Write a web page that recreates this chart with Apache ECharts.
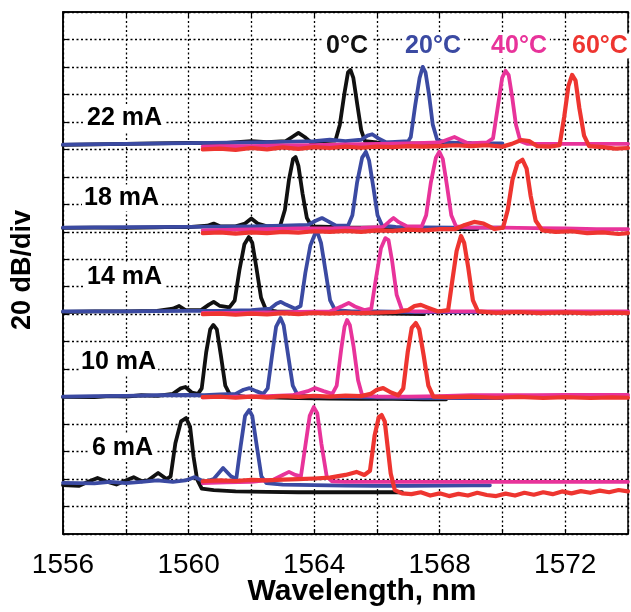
<!DOCTYPE html>
<html>
<head>
<meta charset="utf-8">
<script src="https://cdn.jsdelivr.net/npm/echarts@6/dist/echarts.min.js"></script>
<style>html,body{margin:0;padding:0;background:#fff}#c{width:631px;height:612px}</style>
</head>
<body>
<div id="c"></div>
<script>
// x tick labels, temperature legend labels, current labels
var xTicks = [1556, 1560, 1564, 1568, 1572];
var temps = ['0°C', '20°C', '40°C', '60°C'];
var tempColors = ['#111111', '#3b4aa2', '#e8339a', '#ee3530'];
var currents = ['22 mA', '18 mA', '14 mA', '10 mA', '6 mA'];

// traces: [wavelength nm, level in divisions]
var k22_0 = [[1556,14.16],[1557,14.18],[1558,14.2],[1559,14.22],[1560,14.24],[1561,14.22],[1562,14.3],[1562.5,14.26],[1563.1,14.3],[1563.3,14.45],[1563.5,14.6],[1563.7,14.45],[1563.9,14.25],[1564.3,14.3],[1564.68,14.32],[1564.82,14.9],[1564.96,16.0],[1565.08,16.8],[1565.16,16.89],[1565.25,16.6],[1565.38,15.6],[1565.5,14.7],[1565.62,14.3],[1566,14.25],[1567,14.22],[1568,14.2],[1569,14.22]];
var k22_20 = [[1556,14.17],[1558,14.2],[1560,14.23],[1562,14.25],[1563,14.27],[1564,14.3],[1564.5,14.35],[1565,14.3],[1565.5,14.35],[1565.7,14.5],[1565.85,14.55],[1566.05,14.4],[1566.3,14.25],[1567,14.3],[1567.08,14.45],[1567.22,15.6],[1567.36,16.6],[1567.46,17.0],[1567.55,16.8],[1567.66,16.0],[1567.78,14.9],[1567.92,14.35],[1568.2,14.25],[1569,14.22],[1570,14.22]];
var k22_40 = [[1560.45,14.1],[1561,14.12],[1562,14.12],[1563,14.14],[1564,14.15],[1565,14.18],[1566,14.2],[1567,14.22],[1568,14.25],[1568.3,14.38],[1568.47,14.45],[1568.65,14.35],[1568.9,14.22],[1569.5,14.25],[1569.7,14.4],[1569.86,15.6],[1569.99,16.6],[1570.1,16.86],[1570.2,16.7],[1570.31,15.9],[1570.43,14.9],[1570.57,14.3],[1570.8,14.2],[1572,14.2],[1573,14.2],[1574,14.2]];
var k22_60 = [[1560.45,14.0],[1561,14.03],[1561.5,13.98],[1562,14.05],[1562.5,14.0],[1563,14.07],[1563.5,14.02],[1564,14.08],[1564.5,14.05],[1565,14.1],[1565.5,14.06],[1566,14.1],[1566.5,14.08],[1567,14.12],[1567.5,14.1],[1568,14.12],[1568.5,14.15],[1569,14.12],[1569.5,14.15],[1570,14.1],[1570.3,14.2],[1570.6,14.34],[1570.85,14.3],[1571.1,14.12],[1571.5,14.1],[1571.82,14.15],[1571.97,15.2],[1572.1,16.3],[1572.22,16.71],[1572.33,16.5],[1572.45,15.5],[1572.6,14.5],[1572.76,14.12],[1573.2,14.08],[1573.6,14.03],[1574,14.05]];

var k18_0 = [[1556,11.14],[1557,11.15],[1558,11.14],[1559,11.16],[1559.5,11.18],[1560,11.17],[1560.6,11.22],[1560.8,11.3],[1561.0,11.2],[1561.5,11.2],[1561.8,11.3],[1562.0,11.48],[1562.2,11.3],[1562.5,11.2],[1562.92,11.22],[1563.07,11.8],[1563.2,12.9],[1563.33,13.65],[1563.41,13.72],[1563.5,13.4],[1563.63,12.4],[1563.77,11.5],[1563.92,11.2],[1564.5,11.18],[1565,11.16],[1566,11.15],[1567,11.12],[1568,11.1],[1569.2,11.1]];
var k18_20 = [[1556,11.15],[1558,11.17],[1560,11.18],[1562,11.2],[1563,11.22],[1563.8,11.25],[1564.05,11.4],[1564.25,11.5],[1564.45,11.38],[1564.7,11.22],[1565.08,11.22],[1565.22,11.6],[1565.37,12.8],[1565.53,13.7],[1565.65,13.91],[1565.75,13.6],[1565.89,12.6],[1566.02,11.6],[1566.17,11.22],[1566.6,11.18],[1567.5,11.16],[1568.5,11.15],[1569.5,11.15],[1570,11.15]];
var k18_40 = [[1560.45,11.05],[1561.5,11.08],[1562.5,11.1],[1563.5,11.12],[1564.5,11.12],[1565.5,11.14],[1566.2,11.18],[1566.4,11.38],[1566.53,11.5],[1566.7,11.35],[1566.95,11.2],[1567.43,11.2],[1567.57,11.6],[1567.72,12.8],[1567.88,13.7],[1567.99,13.91],[1568.1,13.65],[1568.23,12.7],[1568.37,11.6],[1568.52,11.2],[1569,11.15],[1570,11.15],[1571,11.13],[1572,11.12],[1573,11.1],[1574,11.1]];
var k18_60 = [[1560.45,10.95],[1561,10.98],[1561.5,10.93],[1562,10.98],[1562.5,10.95],[1563,11.0],[1563.5,10.97],[1564,11.02],[1564.5,11.0],[1565,11.03],[1565.5,11.0],[1566,11.05],[1566.5,11.03],[1567,11.08],[1567.5,11.05],[1568,11.1],[1568.5,11.1],[1568.8,11.25],[1569.1,11.36],[1569.4,11.3],[1569.75,11.1],[1570.02,11.15],[1570.17,11.8],[1570.32,12.9],[1570.48,13.5],[1570.64,13.62],[1570.77,13.3],[1570.9,12.3],[1571.06,11.4],[1571.27,11.05],[1571.7,11.0],[1572.2,11.02],[1572.7,10.95],[1573.2,10.98],[1573.7,10.92],[1574,10.95]];

var k14_0 = [[1556,8.08],[1557,8.1],[1558,8.1],[1559,8.12],[1559.5,8.2],[1559.7,8.3],[1559.9,8.15],[1560.4,8.15],[1560.65,8.35],[1560.8,8.45],[1561.0,8.3],[1561.3,8.25],[1561.47,8.5],[1561.62,9.6],[1561.78,10.55],[1561.92,10.81],[1562.03,10.6],[1562.16,9.7],[1562.31,8.6],[1562.47,8.15],[1562.8,8.1],[1563.5,8.08],[1564.5,8.05],[1565.5,8.03],[1566.5,8.02],[1567.5,8.0]];
var k14_20 = [[1556,8.1],[1558,8.1],[1560,8.12],[1561,8.12],[1562,8.15],[1562.6,8.2],[1562.8,8.38],[1562.94,8.45],[1563.1,8.35],[1563.4,8.2],[1563.57,8.3],[1563.72,9.5],[1563.88,10.5],[1564.03,10.93],[1564.11,10.96],[1564.22,10.6],[1564.36,9.6],[1564.51,8.5],[1564.67,8.15],[1565.2,8.1],[1566,8.1],[1567,8.08],[1568,8.08],[1569,8.08],[1570,8.08]];
var k14_40 = [[1560.45,8.05],[1561.5,8.05],[1562.5,8.07],[1563.5,8.08],[1564.5,8.1],[1564.9,8.3],[1565.1,8.41],[1565.3,8.28],[1565.6,8.15],[1565.82,8.2],[1565.97,9.3],[1566.13,10.4],[1566.27,10.77],[1566.37,10.7],[1566.49,9.9],[1566.63,8.7],[1566.8,8.15],[1567.2,8.1],[1568,8.1],[1569,8.1],[1570,8.1],[1571,8.1],[1572,8.1],[1573,8.1],[1574,8.1]];
var k14_60 = [[1560.45,8.0],[1561,8.02],[1561.5,7.98],[1562,8.02],[1562.5,7.99],[1563,8.04],[1563.5,8.0],[1564,8.05],[1564.5,8.02],[1565,8.06],[1565.5,8.04],[1566,8.06],[1566.6,8.08],[1567.0,8.15],[1567.2,8.3],[1567.4,8.34],[1567.6,8.25],[1567.95,8.1],[1568.27,8.15],[1568.4,9.2],[1568.54,10.3],[1568.68,10.85],[1568.78,10.6],[1568.91,9.7],[1569.06,8.5],[1569.22,8.1],[1569.8,8.05],[1570.5,8.08],[1571.2,8.04],[1572,8.07],[1572.8,8.03],[1573.5,8.06],[1574,8.04]];

var k10_0 = [[1556,4.99],[1557,4.98],[1557.5,5.02],[1558,5.0],[1558.5,5.05],[1559,5.03],[1559.5,5.1],[1559.75,5.3],[1559.9,5.35],[1560.1,5.15],[1560.3,5.1],[1560.42,5.3],[1560.56,6.6],[1560.69,7.45],[1560.79,7.61],[1560.9,7.45],[1561.03,6.5],[1561.17,5.4],[1561.33,5.05],[1561.8,5.0],[1562.5,4.97],[1563.5,4.95],[1564.5,4.93],[1565.5,4.92],[1566.5,4.92],[1567.5,4.9],[1568.2,4.9]];
var k10_20 = [[1556,5.0],[1557,5.02],[1558,5.03],[1559,5.05],[1560,5.06],[1560.5,5.05],[1561,5.08],[1561.5,5.1],[1561.75,5.25],[1561.94,5.31],[1562.15,5.2],[1562.38,5.1],[1562.52,5.3],[1562.66,6.5],[1562.79,7.55],[1562.93,7.86],[1563.03,7.6],[1563.16,6.6],[1563.32,5.4],[1563.48,5.05],[1564,5.0],[1565,4.98],[1566,4.97],[1567,4.96],[1568,4.95],[1569,4.95],[1570,4.95]];
var k10_40 = [[1560.45,4.97],[1561.5,5.0],[1562.5,5.02],[1563.3,5.05],[1563.8,5.2],[1564.03,5.31],[1564.3,5.2],[1564.58,5.1],[1564.72,5.4],[1564.86,6.7],[1564.97,7.55],[1565.05,7.79],[1565.14,7.6],[1565.26,6.8],[1565.4,5.6],[1565.53,5.05],[1566,5.0],[1567,5.0],[1568,5.02],[1569,5.05],[1570,5.05],[1571,5.05],[1572,5.06],[1573,5.06],[1574,5.06]];
var k10_60 = [[1560.45,4.98],[1561,5.0],[1561.5,4.96],[1562,5.0],[1562.5,4.97],[1563,5.02],[1563.5,4.99],[1564,5.03],[1564.5,5.0],[1565,5.04],[1565.5,5.02],[1565.8,5.1],[1566.0,5.25],[1566.2,5.31],[1566.45,5.15],[1566.68,5.05],[1566.84,5.3],[1566.98,6.6],[1567.11,7.5],[1567.24,7.68],[1567.35,7.45],[1567.49,6.5],[1567.64,5.4],[1567.8,5.0],[1568.3,4.98],[1569,5.0],[1569.8,4.96],[1570.5,4.99],[1571.3,4.95],[1572,4.98],[1572.8,4.95],[1573.5,4.97],[1574,4.96]];

var k6_0 = [[1556,1.78],[1556.5,1.75],[1556.8,1.9],[1557.1,2.04],[1557.4,1.9],[1557.7,1.8],[1558.0,1.95],[1558.25,2.07],[1558.5,1.92],[1558.7,1.95],[1559.03,2.22],[1559.3,2.0],[1559.43,2.1],[1559.58,3.3],[1559.76,4.1],[1559.92,4.22],[1560.05,3.9],[1560.16,2.8],[1560.27,2.0],[1560.42,1.65],[1560.8,1.6],[1561.5,1.55],[1562.5,1.53],[1563.5,1.52],[1564.5,1.52],[1565.5,1.52],[1566.5,1.52],[1566.8,1.52]];
var k6_20 = [[1556,1.86],[1557,1.84],[1557.5,1.9],[1558,1.85],[1558.5,1.9],[1559,1.95],[1559.5,1.9],[1559.9,1.95],[1560.2,2.07],[1560.5,1.9],[1560.8,2.0],[1561.1,2.4],[1561.35,2.1],[1561.52,2.0],[1561.66,3.2],[1561.8,4.3],[1561.93,4.51],[1562.03,4.3],[1562.16,3.3],[1562.32,2.1],[1562.48,1.85],[1563,1.8],[1564,1.78],[1565,1.76],[1566,1.75],[1567,1.75],[1568,1.76],[1569,1.77],[1569.6,1.77]];
var k6_40 = [[1560.45,1.85],[1561.2,1.88],[1562,1.9],[1562.7,1.98],[1563.0,2.15],[1563.2,2.26],[1563.4,2.15],[1563.58,2.1],[1563.72,3.2],[1563.86,4.3],[1563.99,4.62],[1564.1,4.4],[1564.23,3.3],[1564.4,2.1],[1564.57,1.92],[1565,1.9],[1566,1.9],[1567,1.9],[1568,1.9],[1569,1.9],[1570,1.9],[1571,1.9],[1572,1.9],[1573,1.9],[1574,1.9]];
var k6_60 = [[1560.45,1.92],[1561,1.95],[1561.5,1.93],[1562,1.97],[1562.5,1.95],[1563,1.98],[1563.5,2.0],[1564,2.02],[1564.5,2.05],[1565.0,2.15],[1565.35,2.26],[1565.6,2.15],[1565.78,2.3],[1565.93,3.6],[1566.06,4.25],[1566.15,4.33],[1566.25,4.1],[1566.34,3.2],[1566.44,2.2],[1566.57,1.6],[1566.8,1.48],[1567.1,1.45],[1567.4,1.52],[1567.7,1.4],[1568.0,1.48],[1568.3,1.38],[1568.6,1.46],[1568.9,1.4],[1569.2,1.5],[1569.5,1.42],[1569.8,1.38],[1570.1,1.47],[1570.4,1.4],[1570.7,1.5],[1571,1.43],[1571.3,1.52],[1571.6,1.45],[1571.9,1.55],[1572.2,1.48],[1572.5,1.56],[1572.8,1.5],[1573.1,1.58],[1573.4,1.52],[1573.7,1.6],[1574,1.55]];

var rows = [
  [k22_0, k22_20, k22_40, k22_60],
  [k18_0, k18_20, k18_40, k18_60],
  [k14_0, k14_20, k14_40, k14_60],
  [k10_0, k10_20, k10_40, k10_60],
  [k6_0, k6_20, k6_40, k6_60]
];

var series = [];
rows.forEach(function (row, ri) {
  row.forEach(function (d, ti) {
    series.push({
      type: 'line', name: currents[ri] + ' ' + temps[ti], data: d,
      showSymbol: false, symbol: 'none', silent: true, animation: false,
      lineStyle: { color: tempColors[ti], width: ti === 3 ? 4.2 : 3.8, join: 'round', cap: 'round' },
      z: 2 + ti
    });
  });
});

var dotted = { color: '#000', width: 1.3, type: [2, 2.5] };
var FONT = '"Liberation Sans", Arial, sans-serif';

var curPos = [[85, 118], [82, 198], [85, 277], [79, 362], [90, 448]];
var tempPos = [347, 433, 519, 569];

var graphics = [];
currents.forEach(function (c, i) {
  graphics.push({ type: 'text', x: curPos[i][0], y: curPos[i][1], z: 10,
    style: { text: c, font: 'bold 25px ' + FONT, fill: '#000', align: 'left', verticalAlign: 'middle', backgroundColor: '#fff', padding: [1, 2] } });
});
temps.forEach(function (t, i) {
  graphics.push({ type: 'text', x: tempPos[i], y: 46, z: 10,
    style: { text: t, font: 'bold 25px ' + FONT, fill: tempColors[i], align: i === 3 ? 'left' : 'center', verticalAlign: 'middle', backgroundColor: '#fff', padding: [0, 3] } });
});
graphics.push({ type: 'text', x: 362, y: 592, style: { text: 'Wavelength, nm', font: 'bold 30px ' + FONT, fill: '#000', align: 'center', verticalAlign: 'middle' } });
graphics.push({ type: 'text', x: 23, y: 270, rotation: Math.PI / 2, style: { text: '20 dB/div', font: 'bold 27px ' + FONT, fill: '#000', align: 'center', verticalAlign: 'middle' } });

var chart = echarts.init(document.getElementById('c'), null, { renderer: 'canvas' });
chart.setOption({
  animation: false,
  backgroundColor: '#fff',
  grid: { left: 63, top: 12, right: -8, bottom: 78, show: true, borderColor: '#000', borderWidth: 1.5, backgroundColor: 'transparent' },
  xAxis: [{
    type: 'value', min: 1556, max: 1574, interval: 2, position: 'bottom',
    axisLine: { show: true, onZero: false, lineStyle: { color: '#000', width: 1.5 } },
    axisTick: { show: true, inside: true, length: 5, lineStyle: { color: '#000', width: 1.2 } },
    axisLabel: { margin: 17, color: '#000', fontSize: 28, fontFamily: FONT,
      formatter: function (v) { return xTicks.indexOf(v) >= 0 ? String(v) : ''; } },
    splitLine: { show: true, lineStyle: dotted }
  }, {
    type: 'value', min: 1556, max: 1574, interval: 2, position: 'top',
    axisLine: { show: true, onZero: false, lineStyle: { color: '#000', width: 1.5 } },
    axisTick: { show: true, inside: true, length: 5, lineStyle: { color: '#000', width: 1.2 } },
    axisLabel: { show: false }, splitLine: { show: false }
  }],
  yAxis: [{
    type: 'value', min: 0, max: 19, interval: 1,
    axisLine: { show: true, onZero: false, lineStyle: { color: '#000', width: 1.5 } },
    axisTick: { show: true, inside: true, length: 5, lineStyle: { color: '#000', width: 1.2 } },
    axisLabel: { show: false },
    splitLine: { show: true, lineStyle: dotted }
  }],
  series: series,
  graphic: graphics
});
</script>
</body>
</html>
